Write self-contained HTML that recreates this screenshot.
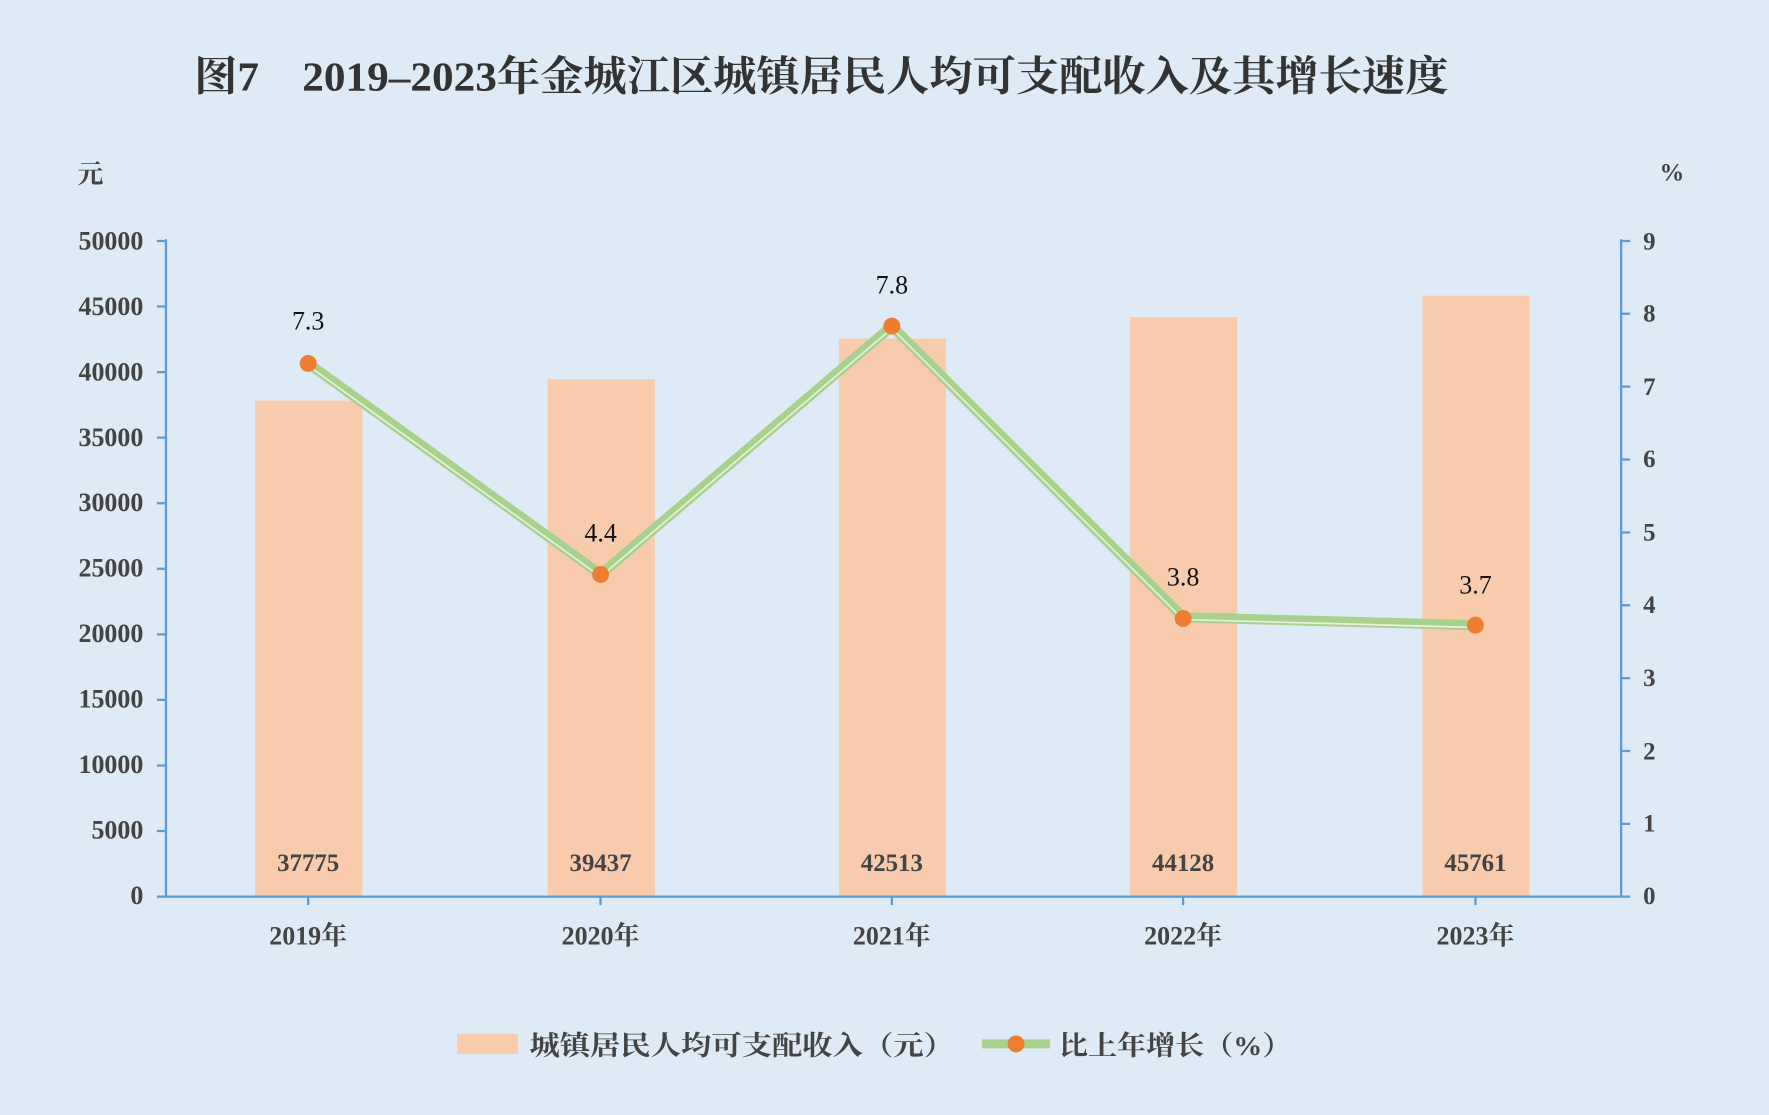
<!DOCTYPE html>
<html><head><meta charset="utf-8"><style>
html,body{margin:0;padding:0;background:#deeaf5;}
svg{display:block}
text{font-family:"Liberation Serif","Noto Serif CJK SC",serif;}
</style></head><body>
<svg width="1769" height="1115" viewBox="0 0 1567 988" preserveAspectRatio="none" xmlns="http://www.w3.org/2000/svg">
<rect width="1567" height="988" fill="#deeaf5"/>
<text x="172" y="80" font-size="37" font-weight="bold" fill="#333" textLength="1111" lengthAdjust="spacingAndGlyphs">图7　2019–2023年金城江区城镇居民人均可支配收入及其增长速度</text>
<text x="80" y="162" font-size="23" font-weight="bold" fill="#444" text-anchor="middle">元</text>
<text x="1481" y="160" font-size="22" font-weight="bold" fill="#444" text-anchor="middle">%</text>
<g fill="#f8cbad">
<rect x="226" y="355" width="95" height="439"/>
<rect x="485" y="336" width="95" height="458"/>
<rect x="743" y="300" width="95" height="494"/>
<rect x="1001" y="281" width="95" height="513"/>
<rect x="1260" y="262" width="95" height="532"/>
</g>
<g stroke="#5b9bd5" stroke-width="2" fill="none">
<line x1="147" y1="212" x2="147" y2="795"/>
<line x1="1436" y1="212" x2="1436" y2="795"/>
<line x1="146" y1="794.5" x2="1437" y2="794.5"/>
<path d="M139 213.5H147M139 271.6H147M139 329.7H147M139 387.8H147M139 445.9H147M139 504H147M139 562.1H147M139 620.2H147M139 678.3H147M139 736.4H147M139 794.5H147"/>
<path d="M1436 213.5H1444M1436 278H1444M1436 342.6H1444M1436 407.2H1444M1436 471.8H1444M1436 536.3H1444M1436 600.9H1444M1436 665.5H1444M1436 730H1444M1436 794.5H1444"/>
<path d="M273 794V802M532 794V802M790 794V802M1048 794V802M1307 794V802"/>
</g>
<g font-size="23" font-weight="bold" fill="#444" text-anchor="end">
<text x="127" y="221">50000</text><text x="127" y="279">45000</text><text x="127" y="337">40000</text>
<text x="127" y="395">35000</text><text x="127" y="453">30000</text><text x="127" y="511">25000</text>
<text x="127" y="569">20000</text><text x="127" y="627">15000</text><text x="127" y="685">10000</text>
<text x="127" y="743">5000</text><text x="127" y="801">0</text>
</g>
<g font-size="22" font-weight="bold" fill="#444" text-anchor="middle">
<text x="1461" y="221">9</text><text x="1461" y="285">8</text><text x="1461" y="350">7</text>
<text x="1461" y="414">6</text><text x="1461" y="479">5</text><text x="1461" y="543">4</text>
<text x="1461" y="608">3</text><text x="1461" y="673">2</text><text x="1461" y="737">1</text>
<text x="1461" y="801">0</text>
</g>
<g font-size="23" font-weight="bold" fill="#444" text-anchor="middle">
<text x="273" y="837">2019年</text><text x="532" y="837">2020年</text><text x="790" y="837">2021年</text>
<text x="1048" y="837">2022年</text><text x="1307" y="837">2023年</text>
</g>
<g font-size="22" font-weight="bold" fill="#444" text-anchor="middle">
<text x="273" y="772">37775</text><text x="532" y="772">39437</text><text x="790" y="772">42513</text>
<text x="1048" y="772">44128</text><text x="1307" y="772">45761</text>
</g>
<polyline points="273,322 532,509 790,289 1048,547 1307,554" fill="none" stroke="#a9d18e" stroke-width="9" stroke-linejoin="round"/>
<polyline points="273,324 532,511 790,291 1048,549 1307,556" fill="none" stroke="#e6f2dc" stroke-width="1.5" stroke-linejoin="round"/>
<g fill="#ed7d31">
<circle cx="273" cy="322" r="7.5"/><circle cx="532" cy="509" r="7.5"/><circle cx="790" cy="289" r="7.5"/>
<circle cx="1048" cy="548" r="7.5"/><circle cx="1307" cy="554" r="7.5"/>
</g>
<g font-size="23" fill="#111" text-anchor="middle">
<text x="273" y="292">7.3</text><text x="532" y="480">4.4</text><text x="790" y="260">7.8</text>
<text x="1048" y="519">3.8</text><text x="1307" y="526">3.7</text>
</g>
<rect x="405" y="916" width="54" height="18" fill="#f8cbad"/>
<text x="469" y="935" font-size="24" font-weight="bold" fill="#444" textLength="376" lengthAdjust="spacingAndGlyphs">城镇居民人均可支配收入（元）</text>
<line x1="870" y1="925" x2="930" y2="925" stroke="#a9d18e" stroke-width="8"/>
<circle cx="900" cy="925" r="7.5" fill="#ed7d31"/>
<text x="938" y="935" font-size="24" font-weight="bold" fill="#444" textLength="206" lengthAdjust="spacingAndGlyphs">比上年增长（%）</text>
</svg>
</body></html>
